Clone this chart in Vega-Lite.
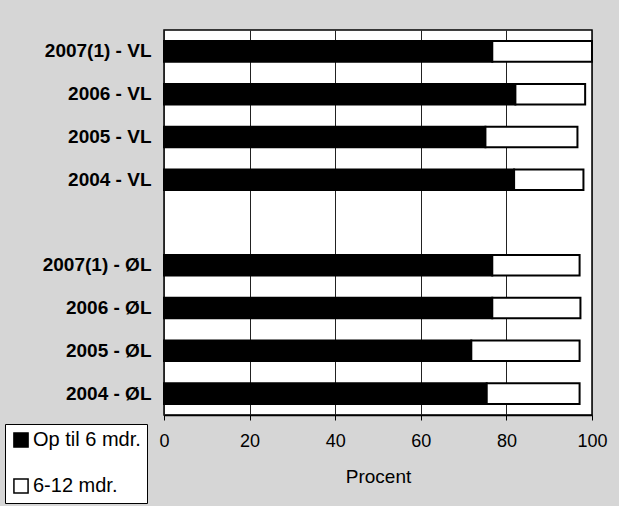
{
  "$schema": "https://vega.github.io/schema/vega-lite/v6.json",
  "width": 428,
  "height": 385,
  "autosize": {"type": "none"},
  "padding": {"left": 164, "top": 30, "right": 27, "bottom": 91},
  "background": "#d6d6d6",
  "config": {
    "view": {"fill": "white", "stroke": "black", "strokeWidth": 1.5},
    "font": "Liberation Sans"
  },
  "data": {
    "values": [
      {"kategori": "2007(1) - VL", "gruppe": "Op til 6 mdr.", "procent": 76.7, "rk": 1},
      {"kategori": "2007(1) - VL", "gruppe": "6-12 mdr.", "procent": 23.3, "rk": 2},
      {"kategori": "2006 - VL", "gruppe": "Op til 6 mdr.", "procent": 82.1, "rk": 1},
      {"kategori": "2006 - VL", "gruppe": "6-12 mdr.", "procent": 16.3, "rk": 2},
      {"kategori": "2005 - VL", "gruppe": "Op til 6 mdr.", "procent": 75.1, "rk": 1},
      {"kategori": "2005 - VL", "gruppe": "6-12 mdr.", "procent": 21.5, "rk": 2},
      {"kategori": "2004 - VL", "gruppe": "Op til 6 mdr.", "procent": 81.8, "rk": 1},
      {"kategori": "2004 - VL", "gruppe": "6-12 mdr.", "procent": 16.2, "rk": 2},
      {"kategori": "2007(1) - ØL", "gruppe": "Op til 6 mdr.", "procent": 76.7, "rk": 1},
      {"kategori": "2007(1) - ØL", "gruppe": "6-12 mdr.", "procent": 20.4, "rk": 2},
      {"kategori": "2006 - ØL", "gruppe": "Op til 6 mdr.", "procent": 76.7, "rk": 1},
      {"kategori": "2006 - ØL", "gruppe": "6-12 mdr.", "procent": 20.6, "rk": 2},
      {"kategori": "2005 - ØL", "gruppe": "Op til 6 mdr.", "procent": 71.8, "rk": 1},
      {"kategori": "2005 - ØL", "gruppe": "6-12 mdr.", "procent": 25.3, "rk": 2},
      {"kategori": "2004 - ØL", "gruppe": "Op til 6 mdr.", "procent": 75.4, "rk": 1},
      {"kategori": "2004 - ØL", "gruppe": "6-12 mdr.", "procent": 21.7, "rk": 2}
    ]
  },
  "mark": {"type": "bar", "stroke": "black", "strokeWidth": 2},
  "encoding": {
    "y": {
      "field": "kategori",
      "type": "nominal",
      "sort": null,
      "scale": {
        "domain": ["2007(1) - VL", "2006 - VL", "2005 - VL", "2004 - VL", " ", "2007(1) - ØL", "2006 - ØL", "2005 - ØL", "2004 - ØL"],
        "paddingInner": 0.52,
        "paddingOuter": 0.26
      },
      "axis": {
        "title": null,
        "labelFont": "Liberation Sans",
        "labelFontWeight": "bold",
        "labelFontSize": 19,
        "labelColor": "black",
        "labelPadding": 13,
        "ticks": false,
        "domain": false
      }
    },
    "x": {
      "field": "procent",
      "type": "quantitative",
      "stack": "zero",
      "scale": {"domain": [0, 100], "nice": false},
      "axis": {
        "title": "Procent",
        "titleFont": "Liberation Sans",
        "titleFontSize": 19,
        "titleFontWeight": "normal",
        "titleColor": "black",
        "titlePadding": 17,
        "values": [0, 20, 40, 60, 80, 100],
        "labelFontSize": 18,
        "labelColor": "black",
        "labelPadding": 12,
        "labelFlush": false,
        "tickColor": "black",
        "tickSize": 5,
        "domainColor": "black",
        "domainWidth": 1.5,
        "grid": true,
        "gridColor": "#222222",
        "gridWidth": 1
      }
    },
    "order": {"field": "rk", "type": "quantitative"},
    "color": {
      "field": "gruppe",
      "type": "nominal",
      "scale": {"domain": ["Op til 6 mdr.", "6-12 mdr."], "range": ["black", "white"]},
      "legend": {
        "title": null,
        "orient": "none",
        "legendX": -159,
        "legendY": 394,
        "fillColor": "white",
        "strokeColor": "black",
        "padding": 6,
        "symbolType": "square",
        "symbolSize": 200,
        "symbolStrokeColor": "black",
        "symbolStrokeWidth": 1.5,
        "labelFontSize": 20,
        "labelColor": "black",
        "labelFont": "Liberation Sans",
        "labelLimit": 300,
        "rowPadding": 24,
        "labelOffset": 2
      }
    }
  }
}
